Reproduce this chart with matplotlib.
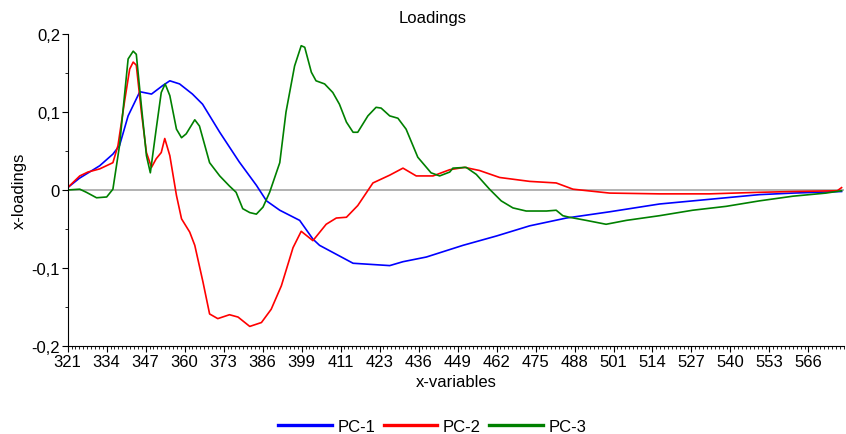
import matplotlib.pyplot as plt
from matplotlib.ticker import MultipleLocator, FuncFormatter

plt.rcParams['font.family'] = ['Liberation Sans', 'DejaVu Sans']

# x positions are variable indexes; labels are the wavelengths shown on the axis
tick_labels = ['321', '334', '347', '360', '373', '386', '399', '411', '423', '436',
               '449', '462', '475', '488', '501', '514', '527', '540', '553', '566']

pc1_x = [0, 3, 8.2, 11.6, 13.3, 15.5, 18.5, 21.5, 24.4, 26.2, 28.7, 32, 34.6, 39, 44,
         48.4, 51, 54.4, 59.5, 62.9, 64.6, 73.2, 82.6, 86, 92, 101.4, 110, 118.5,
         127.9, 139, 151.8, 164.6, 177.4, 186, 198.5]
pc1_y = [0.003, 0.015, 0.031, 0.046, 0.057, 0.095, 0.126, 0.123, 0.134, 0.140, 0.136,
         0.123, 0.110, 0.074, 0.036, 0.006, -0.014, -0.026, -0.039, -0.063, -0.071,
         -0.094, -0.097, -0.092, -0.086, -0.071, -0.059, -0.046, -0.036, -0.028,
         -0.018, -0.012, -0.006, -0.004, -0.002]

pc2_x = [0, 3.1, 5.2, 8.2, 11.6, 12.9, 14.6, 15.9, 16.8, 17.6, 18.9, 20.2, 21.5, 22.7,
         24, 24.9, 26.2, 27.9, 29.2, 31.3, 32.6, 34.7, 36.4, 38.5, 41.5, 43.7, 46.7,
         49.7, 52.2, 54.8, 57.8, 59.9, 62.9, 66.3, 68.9, 71.5, 74.4, 78.3, 82.6, 86,
         89.4, 93.7, 98, 101.8, 105.6, 110.8, 118.5, 125.3, 129.6, 139, 151.8, 164.6,
         177.4, 186, 197.4, 198.5]
pc2_y = [0.003, 0.018, 0.023, 0.027, 0.035, 0.057, 0.114, 0.155, 0.164, 0.160, 0.100,
         0.048, 0.029, 0.040, 0.048, 0.066, 0.044, -0.007, -0.037, -0.054, -0.071,
         -0.118, -0.159, -0.165, -0.160, -0.163, -0.175, -0.170, -0.153, -0.123,
         -0.074, -0.053, -0.065, -0.044, -0.036, -0.035, -0.020, 0.009, 0.019, 0.028,
         0.018, 0.018, 0.026, 0.029, 0.025, 0.016, 0.011, 0.009, 0.001, -0.004,
         -0.005, -0.005, -0.003, -0.002, -0.001, 0.003]

pc3_x = [0, 3.1, 4.8, 7.4, 10, 11.6, 13.3, 15.5, 16.8, 17.6, 18.9, 20.2, 21.2, 22.7,
         24, 25, 26.2, 27.9, 29.2, 30.4, 32.6, 33.8, 36.4, 39, 41.5, 43.2, 44.9, 46.7,
         48.4, 50.1, 51.8, 54.4, 56, 58.2, 59.9, 60.8, 62.5, 63.7, 65.9, 68, 69.7,
         71.5, 73.2, 74.4, 77, 79.1, 80.4, 82.6, 84.7, 86.8, 89.8, 93.2, 95.4, 98,
         98.8, 102.2, 104.8, 108.2, 111.2, 114.2, 117.6, 122.8, 125.3, 127, 128.7,
         133, 138.1, 143.3, 151.8, 160.3, 168.9, 177.4, 186, 194.5, 198.5]
pc3_y = [0.000, 0.001, -0.003, -0.010, -0.009, 0.001, 0.057, 0.168, 0.178, 0.174,
         0.108, 0.044, 0.022, 0.078, 0.125, 0.136, 0.121, 0.078, 0.067, 0.072, 0.090,
         0.082, 0.035, 0.018, 0.005, -0.003, -0.024, -0.029, -0.031, -0.022, -0.003,
         0.035, 0.100, 0.159, 0.185, 0.183, 0.151, 0.140, 0.136, 0.125, 0.110, 0.087,
         0.074, 0.074, 0.095, 0.106, 0.105, 0.095, 0.092, 0.078, 0.042, 0.022, 0.018,
         0.023, 0.028, 0.029, 0.020, 0.001, -0.014, -0.023, -0.027, -0.027, -0.026,
         -0.033, -0.035, -0.039, -0.044, -0.039, -0.033, -0.026, -0.021, -0.014,
         -0.008, -0.004, -0.001]

fig = plt.figure(figsize=(8.46, 4.35), dpi=100)
ax = fig.add_axes([0.080, 0.2025, 0.918, 0.717])

ax.axhline(0, color='#a6a6a6', lw=1.2, zorder=1)
ax.plot(pc1_x, pc1_y, color='#0000ff', lw=1.2, label='PC-1')
ax.plot(pc2_x, pc2_y, color='#ff0000', lw=1.2, label='PC-2')
ax.plot(pc3_x, pc3_y, color='#008000', lw=1.2, label='PC-3')

ax.set_xlim(0, 199.2)
ax.set_ylim(-0.2, 0.2)
ax.set_xticks(range(0, 10 * len(tick_labels), 10))
ax.set_xticklabels(tick_labels)
ax.xaxis.set_minor_locator(MultipleLocator(1))
ax.set_yticks([-0.2, -0.1, 0, 0.1, 0.2])
ax.yaxis.set_major_formatter(FuncFormatter(lambda v, p: ('%g' % round(v, 2)).replace('.', ',')))
ax.yaxis.set_minor_locator(MultipleLocator(0.05))
ax.tick_params(axis='both', which='major', labelsize=12, length=4, width=0.8, pad=1.5)
ax.tick_params(axis='both', which='minor', length=2, width=0.6)

for s in ['top', 'right']:
    ax.spines[s].set_visible(False)

fig.text(0.511, 0.957, 'Loadings', fontsize=12, ha='center', va='center')
ax.set_xlabel('x-variables', fontsize=12, labelpad=4)
ax.set_ylabel('x-loadings', fontsize=12, labelpad=3)

leg = fig.legend(loc='lower center', bbox_to_anchor=(0.511, -0.034), ncol=3, frameon=False,
                 fontsize=12, handlelength=3.2, columnspacing=0.5, handletextpad=0.35)
for line in leg.get_lines():
    line.set_linewidth(2.4)

fig.savefig('out.png', dpi=100)
